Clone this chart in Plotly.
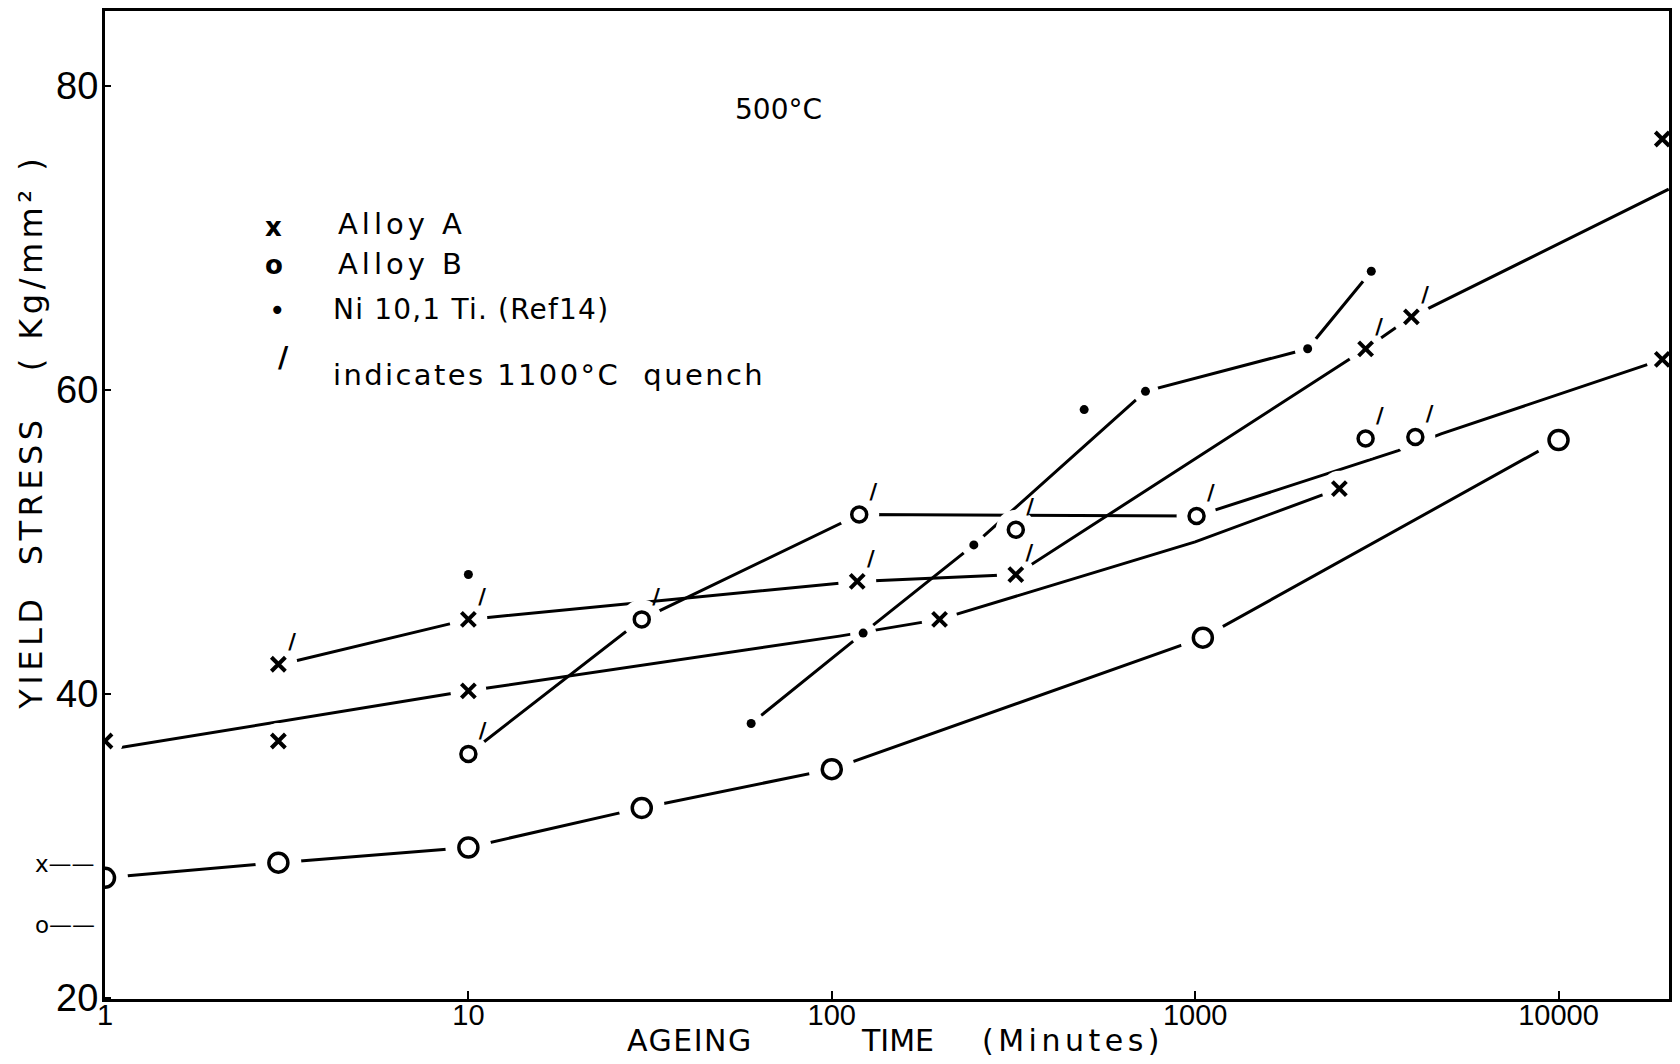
import plotly.graph_objects as go

# ---------------- data ----------------
# Alloy A (x), aged after normal treatment
a_t = [1, 3, 10, 198, 2494]
a_y = [36.9, 36.9, 40.2, 44.9, 53.5]
a_curve_t = [1, 10, 105, 198, 1000, 2494]
a_curve_y = [36.3, 40.2, 43.8, 44.9, 50.0, 53.5]

# Alloy A, 1100 C quench (x')
aq_t = [3, 10, 117.5, 321, 2945, 3936]
aq_y = [41.95, 44.9, 47.4, 47.85, 62.7, 64.8]
aq_curve_t = [3, 10, 117.5, 321, 2945, 3936, 20100]
aq_curve_y = [41.9, 44.9, 47.4, 47.85, 62.7, 64.8, 73.2]

# Alloy B (o)
b_t = [1, 3, 10, 30, 100, 1050, 10000]
b_y = [27.9, 28.9, 29.9, 32.5, 35.05, 43.7, 56.7]

# Alloy B, 1100 C quench (o')
bq_t = [10, 30, 119, 321, 1009, 2945, 4036]
bq_y = [36.05, 44.9, 51.8, 50.8, 51.7, 56.8, 56.9]
bq_curve_t = [10, 30, 119, 1009, 3620, 4750, 17540]
bq_curve_y = [36.05, 44.9, 51.8, 51.7, 56.0, 57.1, 61.66]

# Ni 10,1 Ti (Ref 14)
ni_t = [10, 60, 122, 246, 495, 730, 2040, 3053]
ni_y = [47.85, 38.05, 44.0, 49.8, 58.7, 59.9, 62.7, 67.8]
ni_curve_t = [60, 122, 246, 730, 2040, 3053]
ni_curve_y = [38.05, 44.0, 49.8, 59.9, 62.7, 67.8]

# points drawn on the right-hand border
edge_t = [19300, 19300]
edge_y = [76.5, 62.0]

# as-quenched values marked left of the axis
aq0_labels = ["x——", "o——"]
aq0_y = [28.8, 24.8]

x_ticks = [1, 10, 100, 1000, 10000]
x_ticktext = ["1", "10", "100", "1000", "10000"]
y_ticks = [20, 40, 60, 80]
y_ticktext = ["20", "40", "60", "80"]

# ---------------- figure ----------------
W, H = 1680, 1064
ML, MR, MT, MB = 105, 10, 8, 65


def px(x):
    return (x - ML) / (W - ML - MR)


def py(y):
    return (H - MB - y) / (H - MT - MB)


TXT = "DejaVu Sans, Arial, sans-serif"
NUM = "Liberation Sans Narrow, Liberation Sans, Arial, sans-serif"

fig = go.Figure()


def add_line(t, y):
    fig.add_trace(go.Scatter(x=t, y=y, mode="lines", line=dict(color="black", width=3),
                             hoverinfo="skip", showlegend=False))


for t, y in [(a_curve_t, a_curve_y), (aq_curve_t, aq_curve_y), (b_t, b_y),
             (bq_curve_t, bq_curve_y), (ni_curve_t, ni_curve_y)]:
    add_line(t, y)


def add_halo(t, y, size):
    fig.add_trace(go.Scatter(x=t, y=y, mode="markers",
                             marker=dict(color="white", size=size, line=dict(width=0)),
                             hoverinfo="skip", showlegend=False))


add_halo(a_t, a_y, 36)
add_halo(aq_t, aq_y, 38)
add_halo(b_t, b_y, 46)
add_halo(bq_t, bq_y, 40)
add_halo(ni_t, ni_y, 26)

XMARK = dict(symbol="x-thin", size=14, color="black", line=dict(width=4, color="black"))
TICKFONT = dict(family=TXT, size=21, color="black", weight="bold")

fig.add_trace(go.Scatter(x=a_t, y=a_y, mode="markers", name="Alloy A",
                         marker=XMARK, showlegend=False))
fig.add_trace(go.Scatter(x=aq_t, y=aq_y, mode="markers+text", name="Alloy A (1100°C quench)",
                         text=["/"] * len(aq_t), textposition="top right",
                         textfont=TICKFONT, marker=XMARK, showlegend=False))
fig.add_trace(go.Scatter(x=b_t, y=b_y, mode="markers", name="Alloy B",
                         marker=dict(symbol="circle-open", size=19, color="black",
                                     line=dict(width=3.5, color="black")),
                         showlegend=False))
fig.add_trace(go.Scatter(x=bq_t, y=bq_y, mode="markers+text", name="Alloy B (1100°C quench)",
                         text=["/"] * len(bq_t), textposition="top right",
                         textfont=TICKFONT,
                         marker=dict(symbol="circle-open", size=15, color="black",
                                     line=dict(width=3.5, color="black")),
                         showlegend=False))
fig.add_trace(go.Scatter(x=ni_t, y=ni_y, mode="markers", name="Ni 10,1 Ti (Ref 14)",
                         marker=dict(symbol="circle", size=9, color="black"),
                         showlegend=False))
fig.add_trace(go.Scatter(x=edge_t, y=edge_y, mode="markers", name="edge",
                         cliponaxis=False, marker=XMARK, showlegend=False))

ann = []
# as-quenched marks left of axis
for lab, yv in zip(aq0_labels, aq0_y):
    ann.append(dict(x=px(97), y=yv, xref="paper", yref="y", text=lab, showarrow=False,
                    xanchor="right", yanchor="middle",
                    font=dict(family=TXT, size=23, color="black")))


def text_ann(x, y, text, size, xanchor="left", spacing=0, angle=0, weight="normal"):
    if spacing:
        text = '<span style="letter-spacing:%spx">%s</span>' % (spacing, text)
    ann.append(dict(x=px(x), y=py(y), xref="paper", yref="paper", text=text,
                    showarrow=False, xanchor=xanchor, yanchor="middle", textangle=angle,
                    font=dict(family=TXT, size=size, color="black", weight=weight)))


# legend block
text_ann(274, 225, "x", 26, "center", weight="bold")
text_ann(274, 263, "o", 26, "center", weight="bold")
text_ann(278, 308, "•", 28, "center")
text_ann(284, 356, "/", 28, "center", weight="bold")
text_ann(336, 222, "Alloy A", 29, spacing=4)
text_ann(336, 262, "Alloy B", 29, spacing=4)
text_ann(331, 307, "Ni 10,1 Ti. (Ref14)", 28, spacing=1.2)
text_ann(331, 373, "indicates 1100°C\u00a0 quench", 29, spacing=2.4)
text_ann(779, 107, "500°C", 28, "center")

# axis titles
text_ann(690, 1041, "AGEING", 30, "center", spacing=1.5)
text_ann(898, 1041, "TIME", 30, "center")
text_ann(1074, 1041, "(Minutes)", 30, "center", spacing=4.5)
text_ann(31, 430, "YIELD\u00a0\u00a0STRESS\u00a0\u00a0\u00a0( Kg/mm² )", 32, "center", spacing=4.5, angle=-90)

fig.update_layout(
    width=W, height=H,
    margin=dict(l=ML, r=MR, t=MT, b=MB),
    paper_bgcolor="white", plot_bgcolor="white",
    showlegend=False,
    annotations=ann,
    xaxis=dict(type="log", range=[0, 4.304], tickvals=x_ticks, ticktext=x_ticktext,
               ticks="inside", ticklen=8, tickwidth=2, tickcolor="black",
               ticklabelstandoff=-12,
               showline=True, linewidth=3, linecolor="black", mirror=True,
               showgrid=False, zeroline=False,
               tickfont=dict(family=NUM, size=29, color="black")),
    yaxis=dict(range=[19.93, 84.92], tickvals=y_ticks, ticktext=y_ticktext,
               ticks="inside", ticklen=6, tickwidth=2, tickcolor="black",
               ticklabelstandoff=-4,
               showline=True, linewidth=3, linecolor="black", mirror=True,
               showgrid=False, zeroline=False,
               tickfont=dict(family=NUM, size=38, color="black")),
)

fig.write_html("out.html")
